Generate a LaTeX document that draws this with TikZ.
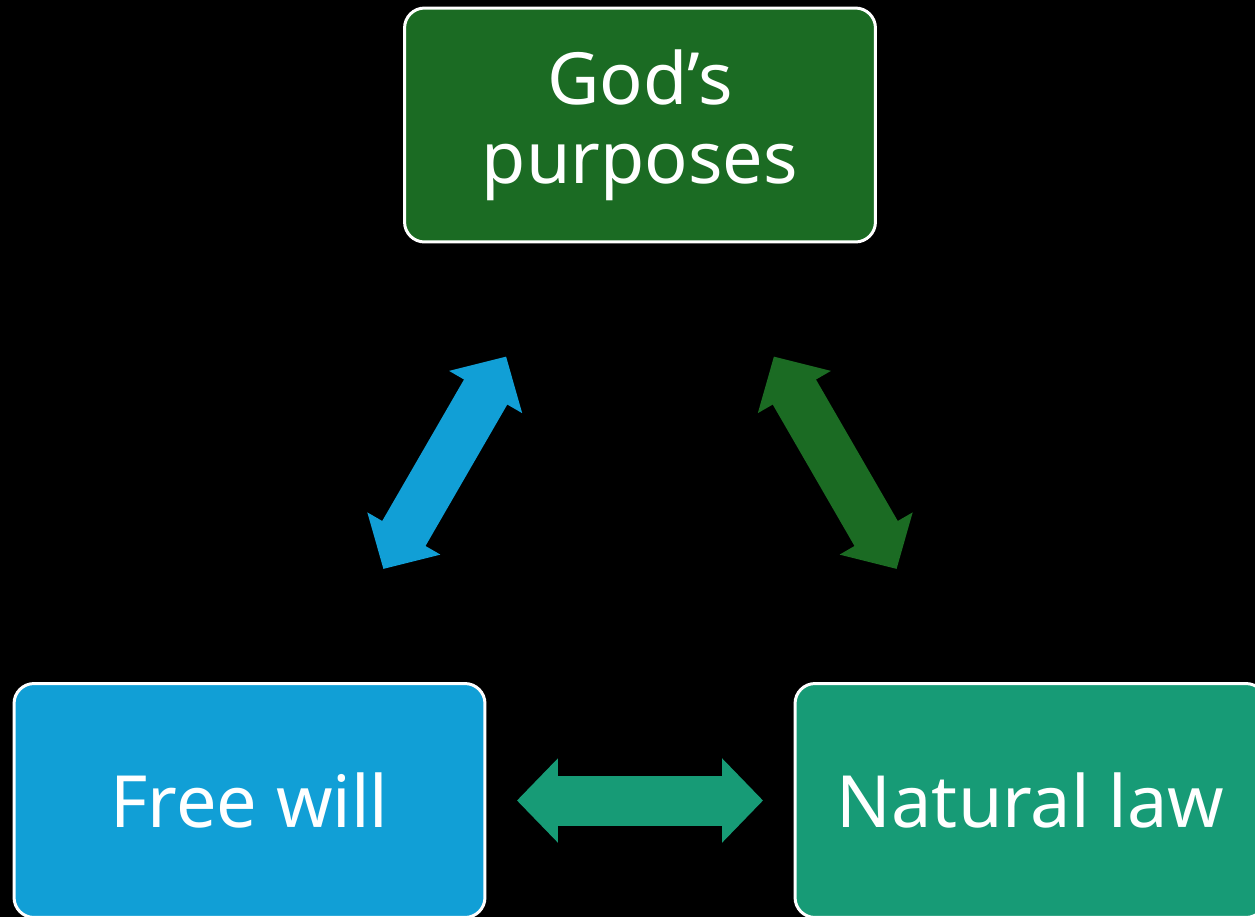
\documentclass[tikz,border=0pt]{standalone}
\usepackage{fontspec}
\setmainfont{Noto Sans}
\usepackage{xcolor}
\usepackage{tikz}
\usetikzlibrary{arrows.meta}

\definecolor{godgreen}{RGB}{27,107,35}
\definecolor{willblue}{RGB}{17,159,214}
\definecolor{lawteal}{RGB}{23,155,118}

\begin{document}
\begin{tikzpicture}[x=0.02cm, y=-0.02cm,
    box/.style={draw=white, line width=1.7pt, rounded corners=0.4cm,
        minimum width=9.42cm, minimum height=4.68cm, align=center,
        text=white, font=\fontsize{41}{45}\selectfont},
    link/.style={line width=1cm, shorten <=5.35cm, shorten >=5.35cm,
        {Triangle[width=1.64cm, length=0.82cm]}-{Triangle[width=1.64cm, length=0.82cm]}}]
    \fill[black] (0,0) rectangle (1255,917);
    \clip (0,0) rectangle (1255,917);
    \node[box, fill=godgreen] at (640, 125) (gods) {God’s\\purposes};
    \node[box, fill=willblue] at (249.5, 800.5) (will) {Free will};
    \node[box, fill=lawteal] at (1030.5, 800.5) (law) {Natural law};
    \draw [link, willblue] (will.center) -- (gods.center);
    \draw [link, godgreen] (gods.center) -- (law.center);
    \draw [link, lawteal] (will.center) -- (law.center);
\end{tikzpicture}
\end{document}
